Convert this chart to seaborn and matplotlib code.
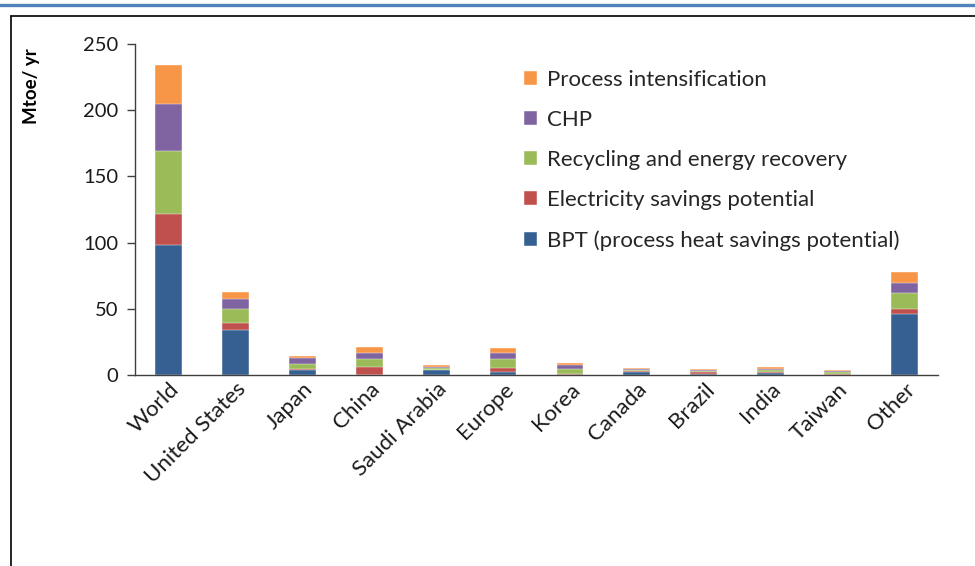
import numpy as np
import pandas as pd
import matplotlib
matplotlib.use("Agg")
import matplotlib.pyplot as plt
import matplotlib.transforms as mtransforms
from matplotlib.lines import Line2D
import seaborn as sns

regions = ["World", "United States", "Japan", "China", "Saudi Arabia", "Europe",
           "Korea", "Canada", "Brazil", "India", "Taiwan", "Other"]
bpt = [98, 34, 3.8, 0.3, 3.5, 2.5, 0.2, 2.3, 1.0, 1.8, 0.2, 46]
electricity = [23.5, 5, 1.0, 6.0, 0.5, 2.8, 0.2, 0.8, 1.3, 0.3, 0.3, 4]
recycling = [47.5, 11, 3.8, 5.8, 1.2, 6.5, 4.3, 0.7, 0.5, 1.6, 1.8, 12]
chp = [35.5, 7.5, 4.5, 4.2, 1.2, 5.0, 2.5, 0.8, 0.8, 1.0, 0.4, 7.5]
process_int = [30, 5, 1.3, 4.5, 1.5, 3.8, 2.0, 0.7, 0.7, 1.5, 0.9, 8.5]

series_names = ["BPT (process heat savings potential)", "Electricity savings potential",
                "Recycling and energy recovery", "CHP", "Process intensification"]
series_values = [bpt, electricity, recycling, chp, process_int]
colors = ["#376092", "#C0504D", "#9BBB59", "#8064A2", "#F79646"]
yticks = [0, 50, 100, 150, 200, 250]

sns.set_theme(style="white")
plt.rcParams["font.family"] = ["Lato", "DejaVu Sans"]

W, H = 975, 566
fig = plt.figure(figsize=(W / 100, H / 100), dpi=100)
ax = fig.add_axes([135 / W, 1 - 375 / H, (938 - 135) / W, (375 - 44) / H])

df = pd.DataFrame({"region": regions})
cum = np.zeros(len(regions))
cums = []
for vals in series_values:
    cum = cum + np.array(vals, dtype=float)
    cums.append(cum.copy())

# draw from the tallest cumulative layer down so each segment shows
for i in range(len(series_names) - 1, -1, -1):
    df["y"] = cums[i]
    sns.barplot(data=df, x="region", y="y", order=regions, color=colors[i],
                width=0.4, saturation=1, label=series_names[i], ax=ax,
                edgecolor="white", linewidth=0.3)

ax.set_xlim(-0.5, len(regions) - 0.5)
ax.set_ylim(0, 250)
ax.set_yticks(yticks)
ax.set_yticklabels([str(t) for t in yticks], fontsize=14.5, color="#1a1a1a")
ax.set_xlabel("")
ax.set_ylabel("")

ax.set_xticks(range(len(regions)))
ax.set_xticklabels(regions, rotation=45, ha="right", rotation_mode="anchor",
                   fontsize=16, color="#1a1a1a")
offset = mtransforms.ScaledTranslation(10 / 100, 0, fig.dpi_scale_trans)
for lbl in ax.get_xticklabels():
    lbl.set_transform(lbl.get_transform() + offset)
ax.set_xticks(np.arange(-0.5, len(regions), 1.0), minor=True)
ax.tick_params(axis="x", which="major", length=0, pad=3)
ax.tick_params(axis="x", which="minor", length=6, width=1, color="#404040", direction="out")
ax.tick_params(axis="y", which="major", length=6, width=1, color="#404040",
               direction="out", left=True, pad=6)

for s in ["top", "right"]:
    ax.spines[s].set_visible(False)
for s in ["left", "bottom"]:
    ax.spines[s].set_color("#404040")
    ax.spines[s].set_linewidth(1)

leg = ax.legend(loc="upper left", bbox_to_anchor=(524 / W, 1 - 70 / H),
                bbox_transform=fig.transFigure, frameon=False, fontsize=16,
                handlelength=0.6, handleheight=0.6, handletextpad=0.45,
                labelspacing=0.9, borderpad=0, borderaxespad=0)

fig.text(32 / W, 1 - 86 / H, "Mtoe/ yr", rotation=90, ha="center", va="center",
         fontsize=13.5, fontweight="bold", color="#000000")

# page decorations: blue top rule and black frame
fig.add_artist(Line2D([0, 1], [1 - 5 / H, 1 - 5 / H], transform=fig.transFigure,
                      color="#4F81BD", linewidth=2.4))
fig.add_artist(Line2D([11 / W, 11 / W], [0, 1 - 16 / H], transform=fig.transFigure,
                      color="black", linewidth=1.2))
fig.add_artist(Line2D([11 / W, 1], [1 - 16 / H, 1 - 16 / H], transform=fig.transFigure,
                      color="black", linewidth=1.2))

fig.savefig("out.png", dpi=100)
